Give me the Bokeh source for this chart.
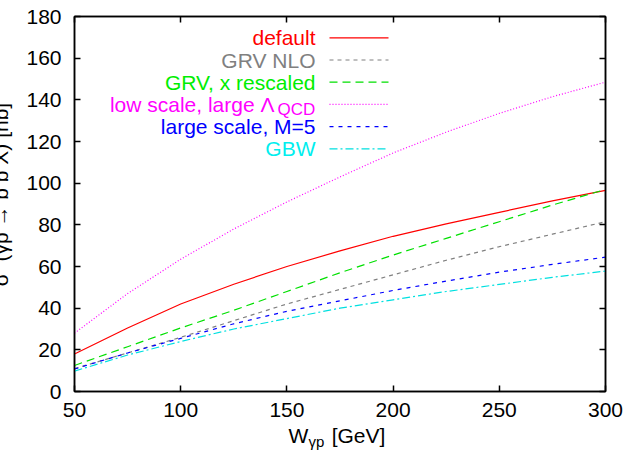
import math
from bokeh.plotting import figure
from bokeh.models import Range1d, FixedTicker, LinearAxis, Label
from bokeh.embed import file_html
from bokeh.resources import INLINE

# ---- data ----
W = [50, 75, 100, 125, 150, 175, 200, 225, 250, 275, 300]
sigma_default = [18, 30.5, 42, 51.5, 60, 67.5, 74.5, 80.5, 86, 91.5, 96.5]
sigma_grv_nlo = [11, 18.5, 26, 34, 42, 49, 56, 63, 69.5, 75.5, 81.5]
sigma_grv_resc = [12.5, 21.5, 30.5, 39, 48, 57, 65.5, 73.5, 81.5, 89.5, 97]
sigma_low_scale = [28, 47, 63.5, 78, 91, 103, 114.5, 124.5, 133.5, 141.5, 148.5]
sigma_large_scale = [10.8, 18.5, 25.5, 32.5, 38.5, 43.5, 48.5, 53, 57.3, 61, 64.5]
sigma_gbw = [9.8, 17.5, 24, 30, 35, 40, 44, 48, 51.4, 54.8, 57.8]

x_ticks = [50, 100, 150, 200, 250, 300]
y_ticks = [0, 20, 40, 60, 80, 100, 120, 140, 160, 180]

names = ["default", "GRV NLO", "GRV, x rescaled", "low scale, large \u039b", "large scale, M=5", "GBW"]
series = [sigma_default, sigma_grv_nlo, sigma_grv_resc, sigma_low_scale, sigma_large_scale, sigma_gbw]
colors = ["#ff0000", "#808080", "#00e000", "#ff00ff", "#0000ff", "#00e0e0"]
text_colors = ["#ff0000", "#808080", "#00ee00", "#ff00ff", "#0000ff", "#00eeee"]
dashes = ["solid", "4 4", "8 5", "1 2", "4 5", "8 3 2 3"]

FONT = "Liberation Sans"
FS = "21px"

# frame geometry (pixels in the page)
FL, FR, FT, FB = 74, 605, 16, 391
W_PX, H_PX = 627, 464

p = figure(width=W_PX, height=H_PX, output_backend="svg", toolbar_location=None,
           x_range=Range1d(50, 300), y_range=Range1d(0, 180),
           min_border_left=FL, min_border_right=W_PX - FR,
           min_border_top=FT, min_border_bottom=H_PX - FB)
p.grid.visible = False
p.outline_line_color = "black"
p.outline_line_width = 1.5
p.background_fill_color = "white"
p.border_fill_color = "white"

def style_axis(ax, ticks, show_labels, standoff):
    ax.ticker = FixedTicker(ticks=ticks)
    ax.major_tick_in = 6
    ax.major_tick_out = 0
    ax.minor_tick_in = 0
    ax.minor_tick_out = 0
    ax.axis_line_color = "black"
    ax.axis_line_width = 1.5
    ax.major_tick_line_color = "black"
    ax.major_tick_line_width = 1.5
    ax.major_label_text_font = FONT
    ax.major_label_text_color = "black"
    ax.major_label_standoff = standoff
    if show_labels:
        ax.major_label_text_font_size = FS
    else:
        # mirror axis: ticks only, no labels
        ax.major_label_overrides = {t: "" for t in ticks}
        ax.major_label_text_font_size = "0px"
        ax.major_label_standoff = 0

style_axis(p.xaxis[0], x_ticks, True, 11)
style_axis(p.yaxis[0], y_ticks, True, 13)
top_ax = LinearAxis()
right_ax = LinearAxis()
style_axis(top_ax, x_ticks, False, 0)
style_axis(right_ax, y_ticks, False, 0)
p.add_layout(top_ax, "above")
p.add_layout(right_ax, "right")

# curves
for ys, c, d in zip(series, colors, dashes):
    p.line(W, ys, line_color=c, line_width=1.2, line_dash=d)

# helpers: page pixel -> data coordinates
def xd(px):
    return 50 + (px - FL) * 250.0 / (FR - FL)

def yd(py):
    return (FB - py) * 180.0 / (FB - FT)

def label(px, py, text, size=FS, color="black", align="left", angle=0.0, place="center"):
    # py is the visual centre line of the text
    lab = Label(x=xd(px), y=yd(py), text=text, text_color=color, text_font=FONT,
                text_font_size=size, text_align=align, text_baseline="middle", angle=angle)
    p.add_layout(lab, place)

# legend (text right-aligned, sample line to the right)
row0, drow = 37.3, 22.2
for i, (nm, c, tc, d) in enumerate(zip(names, colors, text_colors, dashes)):
    ly = row0 + i * drow
    p.line([xd(329), xd(388)], [yd(ly), yd(ly)], line_color=c, line_width=1.2, line_dash=d)
    right_edge = 315 if i != 3 else 274
    label(right_edge, ly, nm, color=tc, align="right")
    if i == 3:
        label(277, ly + 5, "QCD", size="17px", color=tc, align="left")

# x axis title: W_{γp} [GeV]  (side panels, so that it is not clipped to the frame)
NB = "\u00a0"
label(288, 435, "W" + NB * 4 + "[GeV]", place="below")
label(308, 441, "\u03b3p", size="15px", place="right")

# y axis title (clipped at the page edge as in the reference)
label(0, 194, "\u03c3" + NB * 2 + "(\u03b3p \u2192 b b\u0304 X) [nb]", align="center",
      angle=math.pi / 2, place="left")

open("out.html", "w").write(file_html(p, INLINE))
